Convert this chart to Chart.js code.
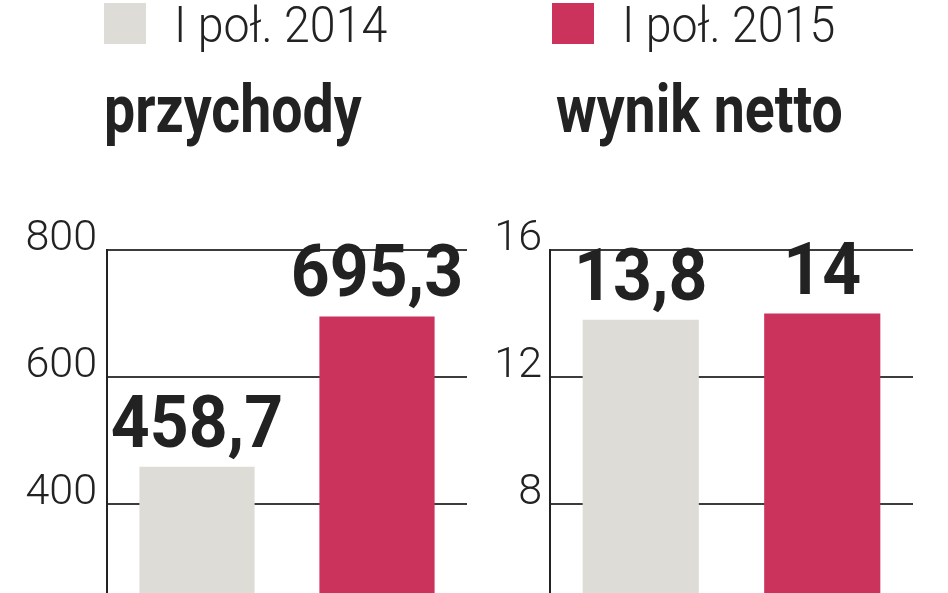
<!DOCTYPE html>
<html><head><meta charset="utf-8">
<script src="https://cdn.jsdelivr.net/npm/chart.js@4"></script>
<style>
html,body{margin:0;padding:0;background:#fff;overflow:hidden;width:948px;height:593px;}
#wrap{position:relative;width:948px;height:593px;overflow:hidden;background:#fff;}
canvas{position:absolute;top:0;}
#c1{left:0;} #c2{left:474px;}
</style></head><body>
<div id="wrap"><canvas id="c1" width="474" height="798"></canvas><canvas id="c2" width="474" height="798"></canvas></div>
<script>
const seriesLabels = ['I poł. 2014', 'I poł. 2015'];
const panelTitles = ['przychody', 'wynik netto'];
const revenue = [458.7, 695.3];
const netResult = [13.8, 14];
const revenueTicks = [0, 200, 400, 600, 800];
const netTicks = [0, 4, 8, 12, 16];

const fmt = v => String(v).replace('.', ',');

const decor = {
  id: 'decor',
  afterDatasetsDraw(chart, args, opts) {
    const ctx = chart.ctx;
    ctx.save();
    // legend item
    const col = chart.data.datasets[opts.legendIndex].backgroundColor;
    ctx.fillStyle = col;
    ctx.fillRect(opts.boxX, 3, 42, 41);
    ctx.save();
    ctx.translate(opts.boxX + 70, 42);
    ctx.scale(0.93, 1);
    ctx.fillStyle = '#222';
    ctx.font = '300 50px Roboto';
    ctx.textAlign = 'left';
    ctx.textBaseline = 'alphabetic';
    ctx.fillText(chart.data.datasets[opts.legendIndex].label, 0, 0);
    ctx.restore();
    // title
    ctx.save();
    ctx.translate(opts.titleX, 132);
    ctx.scale(0.84, 1);
    ctx.font = 'bold 66px Roboto';
    ctx.fillStyle = '#222';
    ctx.textBaseline = 'alphabetic';
    ctx.fillText(opts.title, 0, 0);
    ctx.restore();
    // value labels
    chart.data.datasets.forEach((ds, i) => {
      const meta = chart.getDatasetMeta(i);
      meta.data.forEach((bar, j) => {
        ctx.save();
        ctx.translate(bar.x, bar.y - 20);
        ctx.scale(0.93, 1);
        ctx.font = 'bold 73px Roboto';
        ctx.fillStyle = '#222';
        ctx.textAlign = 'center';
        ctx.textBaseline = 'alphabetic';
        ctx.fillText(fmt(ds.data[j]), 0, 0);
        ctx.restore();
      });
    });
    ctx.restore();
  }
};

function makeChart(id, values, ticks, title, legendIndex, axisWidth, padRight, tickPad, boxX, titleX) {
  return new Chart(document.getElementById(id), {
    type: 'bar',
    data: {
      labels: [title],
      datasets: [
        { label: seriesLabels[0], data: [values[0]], backgroundColor: '#dddcd6' },
        { label: seriesLabels[1], data: [values[1]], backgroundColor: '#cb335d' }
      ]
    },
    options: {
      responsive: false,
      animation: false,
      devicePixelRatio: 1,
      layout: { padding: { top: 250, bottom: 40, left: 0, right: padRight } },
      datasets: { bar: { barPercentage: 0.64, categoryPercentage: 1, borderWidth: 0 } },
      plugins: {
        legend: { display: false },
        title: { display: false },
        tooltip: { enabled: false },
        decor: { legendIndex, title, boxX, titleX }
      },
      scales: {
        x: { display: false },
        y: {
          min: ticks[0],
          max: ticks[ticks.length - 1],
          afterBuildTicks: s => { s.ticks = ticks.map(v => ({ value: v })); },
          afterFit: s => { s.width = axisWidth; },
          ticks: {
            font: { family: 'Roboto', weight: '300', size: 43 },
            color: '#222',
            padding: tickPad,
            labelOffset: -11,
            callback: v => String(v)
          },
          grid: { color: '#3c3c3c', lineWidth: 2, drawTicks: false },
          border: { color: '#222', width: 2 }
        }
      }
    },
    plugins: [decor]
  });
}

makeChart('c1', revenue, revenueTicks, panelTitles[0], 0, 107, 7, 10, 104, 104);
makeChart('c2', netResult, netTicks, panelTitles[1], 1, 76, 35, 8, 78, 82);
</script>
</body></html>
